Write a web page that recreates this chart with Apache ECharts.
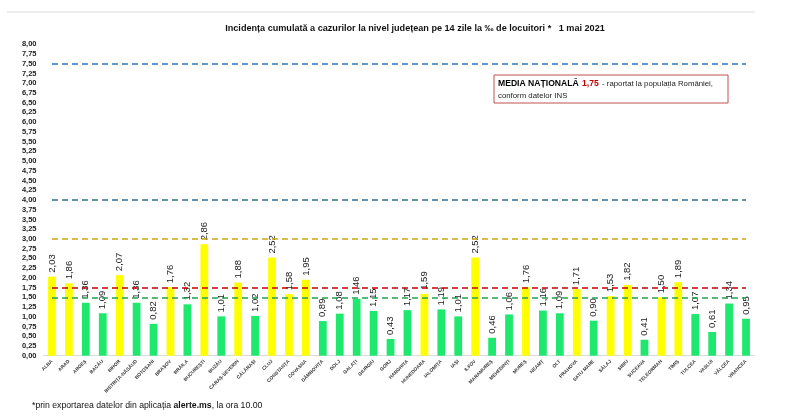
<!DOCTYPE html>
<html>
<head>
<meta charset="utf-8">
<script src="https://cdn.jsdelivr.net/npm/echarts@6/dist/echarts.min.js"></script>
<style>
html,body{margin:0;padding:0;background:#fff;}
#c{width:795px;height:418px;}
</style>
</head>
<body>
<div id="c"></div>
<script>
var counties = ["ALBA","ARAD","ARGEȘ","BACĂU","BIHOR","BISTRIȚA-NĂSĂUD","BOTOȘANI","BRAȘOV","BRĂILA","BUCUREȘTI","BUZĂU","CARAȘ-SEVERIN","CĂLĂRAȘI","CLUJ","CONSTANȚA","COVASNA","DÂMBOVIȚA","DOLJ","GALAȚI","GIURGIU","GORJ","HARGHITA","HUNEDOARA","IALOMIȚA","IAȘI","ILFOV","MARAMUREȘ","MEHEDINȚI","MUREȘ","NEAMȚ","OLT","PRAHOVA","SATU MARE","SĂLAJ","SIBIU","SUCEAVA","TELEORMAN","TIMIȘ","TULCEA","VASLUI","VÂLCEA","VRANCEA"];
var incidence = [2.03,1.86,1.36,1.09,2.07,1.36,0.82,1.76,1.32,2.86,1.01,1.88,1.02,2.52,1.58,1.95,0.89,1.08,1.46,1.15,0.43,1.17,1.59,1.19,1.01,2.52,0.46,1.06,1.76,1.16,1.09,1.71,0.90,1.53,1.82,0.41,1.50,1.89,1.07,0.61,1.34,0.95];
var thresholds = [7.5, 4.0, 3.0, 1.75, 1.5];
var yTicks = {min:0, max:8, step:0.25};
var nationalMean = "1,75";

var thrColors = ["#2e75b6","#2e6f95","#c9a815","#c00000","#22a050"];
function fmt(v){return v.toFixed(2).replace('.',',');}

var chart = echarts.init(document.getElementById('c'), null, {renderer:'canvas'});
chart.setOption({
  animation:false,
  backgroundColor:'#ffffff',
  title:{
    text:'Incidența cumulată a cazurilor la nivel județean pe 14 zile la ‰ de locuitori *   1 mai 2021',
    left:410, top:19, textAlign:'center',
    textStyle:{fontFamily:'Liberation Sans',fontSize:9.1,fontWeight:'bold',color:'#111'}
  },
  grid:{left:43.5,right:40.5,top:44.3,bottom:62.3},
  xAxis:{
    type:'category',
    data:counties,
    axisTick:{show:false},
    axisLine:{lineStyle:{color:'#d9d9d9',width:1}},
    axisLabel:{interval:0,rotate:45,fontSize:4.8,fontWeight:'bold',color:'#333',fontFamily:'Liberation Sans',margin:5}
  },
  yAxis:{
    type:'value',
    min:yTicks.min,max:yTicks.max,interval:yTicks.step,
    splitLine:{show:false},
    axisLine:{show:false},axisTick:{show:false},
    axisLabel:{formatter:function(v){return fmt(v);},fontSize:7.5,fontWeight:'bold',color:'#222',fontFamily:'Liberation Sans',margin:7}
  },
  series:[{
    type:'bar',
    data:incidence.map(function(v){return {value:v,itemStyle:{color:v>=1.5?'#ffff00':'#1ee86e'}};}),
    barWidth:'46%',
    label:{
      show:true,position:'top',rotate:90,align:'left',verticalAlign:'middle',distance:4,
      formatter:function(p){return fmt(p.value);},
      fontSize:9.5,color:'#222',fontFamily:'Liberation Sans'
    },
    markLine:{
      silent:true,symbol:['none','none'],
      label:{show:false},
      data:thresholds.map(function(t,i){return [
        {coord:[0,t],lineStyle:{color:thrColors[i],type:[6,4],width:1.6}},
        {coord:[counties.length-1,t]}
      ];})
    }
  }],
  graphic:[
    {type:'line',shape:{x1:7,y1:12,x2:755,y2:12},style:{stroke:'#dcdcdc',lineWidth:1}},
    {type:'rect',shape:{x:494,y:75,width:234,height:28},style:{fill:'#fff',stroke:'#c0504d',lineWidth:1}},
    {type:'text',left:498,top:78,style:{
      text:'{b|MEDIA NAȚIONALĂ} {r|'+nationalMean+'} {n|- raportat la populația României,}\n{n|conform datelor INS}',
      rich:{
        b:{fontFamily:'Liberation Sans',fontSize:8.6,fontWeight:'bold',fill:'#000',lineHeight:12},
        r:{fontFamily:'Liberation Sans',fontSize:8.6,fontWeight:'bold',fill:'#c00000',lineHeight:12},
        n:{fontFamily:'Liberation Sans',fontSize:7.8,fill:'#222',lineHeight:12}
      }
    }},
    {type:'text',left:32,top:401,style:{
      text:'{n|*prin exportarea datelor din aplicația }{b|alerte.ms}{n|, la ora 10.00}',
      rich:{
        n:{fontFamily:'Liberation Sans',fontSize:8.7,fill:'#111'},
        b:{fontFamily:'Liberation Sans',fontSize:8.7,fontWeight:'bold',fill:'#111'}
      }
    }}
  ]
});
</script>
</body>
</html>
